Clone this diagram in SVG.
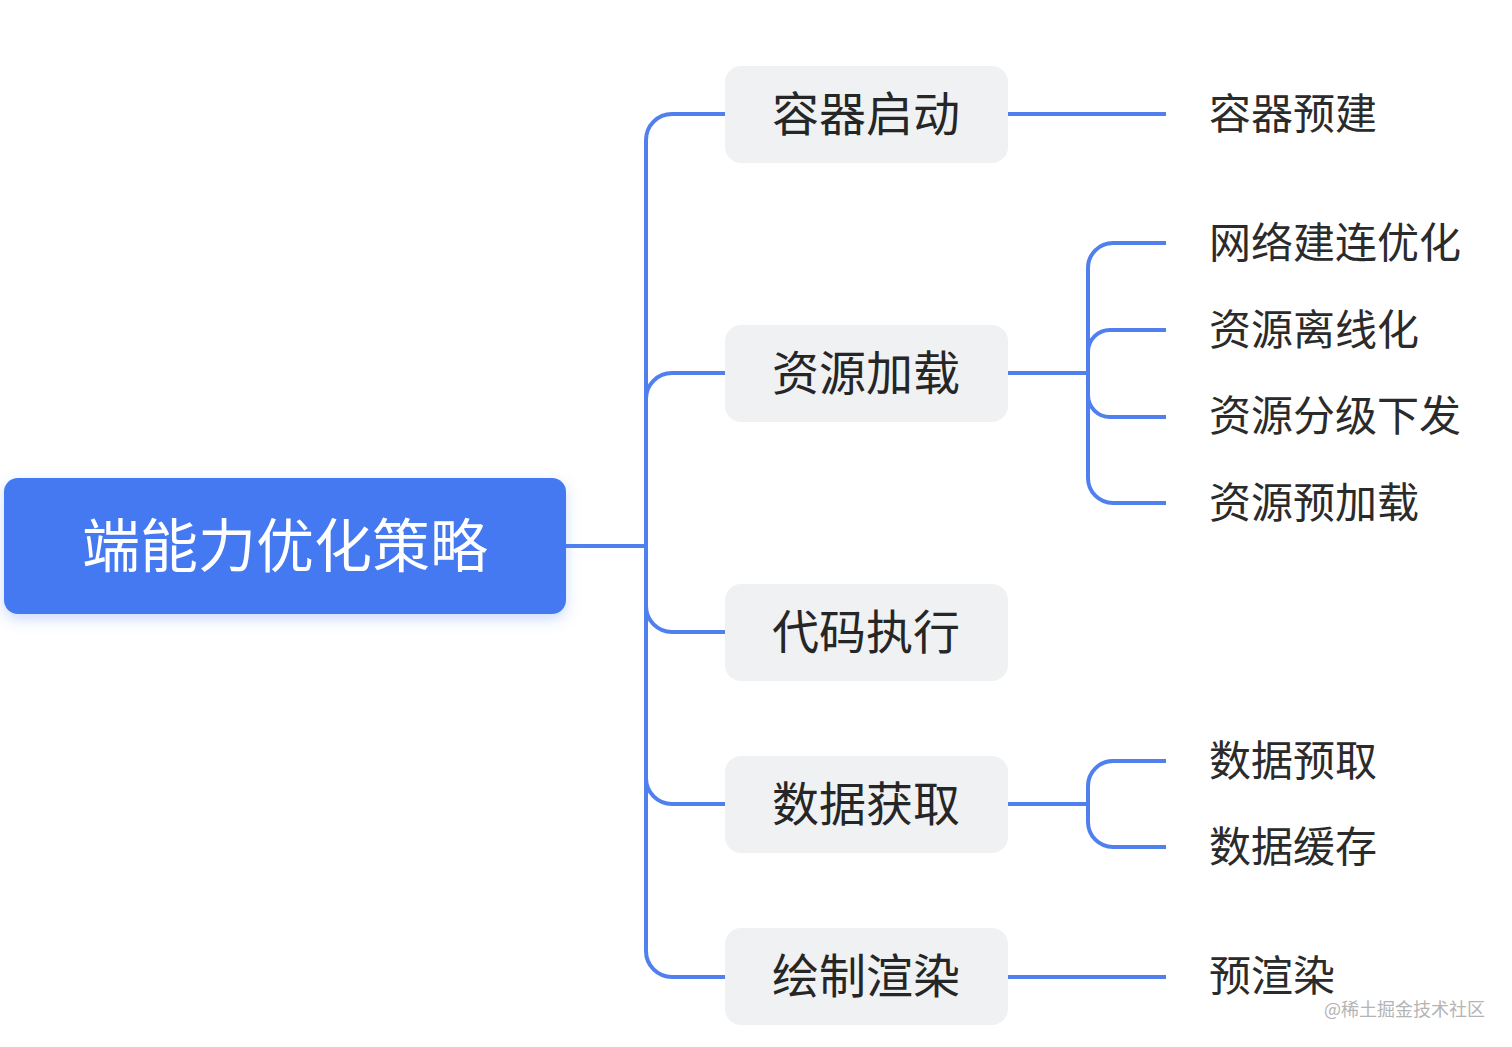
<svg xmlns="http://www.w3.org/2000/svg" width="1512" height="1047" viewBox="0 0 1512 1047">
<defs>
<filter id="sh" x="-10%" y="-30%" width="120%" height="170%">
<feDropShadow dx="0" dy="5" stdDeviation="7" flood-color="#4479F2" flood-opacity="0.28"/>
</filter>
<style>
.ln{fill:none;stroke:#4F80EE;stroke-width:4;stroke-linecap:butt}
.l1{fill:#EFF1F3}
.t{font-family:"Noto Sans CJK SC","Noto Sans",sans-serif;dominant-baseline:central}
.t0{font-size:58px;fill:#ffffff;text-anchor:middle}
.t1{font-size:47px;fill:#262626;text-anchor:middle}
.t2{font-size:42px;fill:#2b2b2b}
.wm{font-family:"Noto Sans CJK SC","Noto Sans",sans-serif;font-size:18px;fill:#b4b4b4}
</style>
</defs>
<rect width="1512" height="1047" fill="#ffffff"/>
<g id="connectors">
<path class="ln" d="M566,546 H646"/>
<path class="ln" d="M646,546 V140 A26,26 0 0 1 672,114 H725"/>
<path class="ln" d="M646,546 V399 A26,26 0 0 1 672,373 H725"/>
<path class="ln" d="M646,546 V606 A26,26 0 0 0 672,632 H725"/>
<path class="ln" d="M646,546 V778 A26,26 0 0 0 672,804 H725"/>
<path class="ln" d="M646,546 V951 A26,26 0 0 0 672,977 H725"/>
<path class="ln" d="M1008,114 H1166"/>
<path class="ln" d="M1008,373 H1088"/>
<path class="ln" d="M1088,373 V268 A25,25 0 0 1 1113,243 H1166"/>
<path class="ln" d="M1088,373 V352 A22,22 0 0 1 1110,330 H1166"/>
<path class="ln" d="M1088,373 V395 A22,22 0 0 0 1110,417 H1166"/>
<path class="ln" d="M1088,373 V478 A25,25 0 0 0 1113,503 H1166"/>
<path class="ln" d="M1008,804 H1088"/>
<path class="ln" d="M1088,804 V786 A25,25 0 0 1 1113,761 H1166"/>
<path class="ln" d="M1088,804 V822 A25,25 0 0 0 1113,847 H1166"/>
<path class="ln" d="M1008,977 H1166"/>
</g>
<g id="root">
<rect x="4" y="478" width="562" height="136" rx="14" fill="#4479F2" filter="url(#sh)"/>
<text class="t t0" x="285" y="542">端能力优化策略</text>
</g>
<g id="n-rongqiqidong">
<rect class="l1" x="725" y="66" width="283" height="97" rx="16"/>
<text class="t t1" x="866" y="110">容器启动</text>
</g>
<g id="n-ziyuanjiazai">
<rect class="l1" x="725" y="325" width="283" height="97" rx="16"/>
<text class="t t1" x="866" y="369">资源加载</text>
</g>
<g id="n-daimazhixing">
<rect class="l1" x="725" y="584" width="283" height="97" rx="16"/>
<text class="t t1" x="866" y="628">代码执行</text>
</g>
<g id="n-shujuhuoqu">
<rect class="l1" x="725" y="756" width="283" height="97" rx="16"/>
<text class="t t1" x="866" y="800">数据获取</text>
</g>
<g id="n-huizhixuanran">
<rect class="l1" x="725" y="928" width="283" height="97" rx="16"/>
<text class="t t1" x="866" y="972">绘制渲染</text>
</g>
<g id="c-rongqiyujian"><text class="t t2" x="1209" y="110">容器预建</text></g>
<g id="c-wangluo"><text class="t t2" x="1209" y="239">网络建连优化</text></g>
<g id="c-lixian"><text class="t t2" x="1209" y="326">资源离线化</text></g>
<g id="c-fenji"><text class="t t2" x="1209" y="412">资源分级下发</text></g>
<g id="c-yujiazai"><text class="t t2" x="1209" y="499">资源预加载</text></g>
<g id="c-yuqu"><text class="t t2" x="1209" y="757">数据预取</text></g>
<g id="c-huancun"><text class="t t2" x="1209" y="843">数据缓存</text></g>
<g id="c-yuxuanran"><text class="t t2" x="1209" y="972">预渲染</text></g>
<text class="wm" x="1324" y="1016">@稀土掘金技术社区</text>
</svg>
